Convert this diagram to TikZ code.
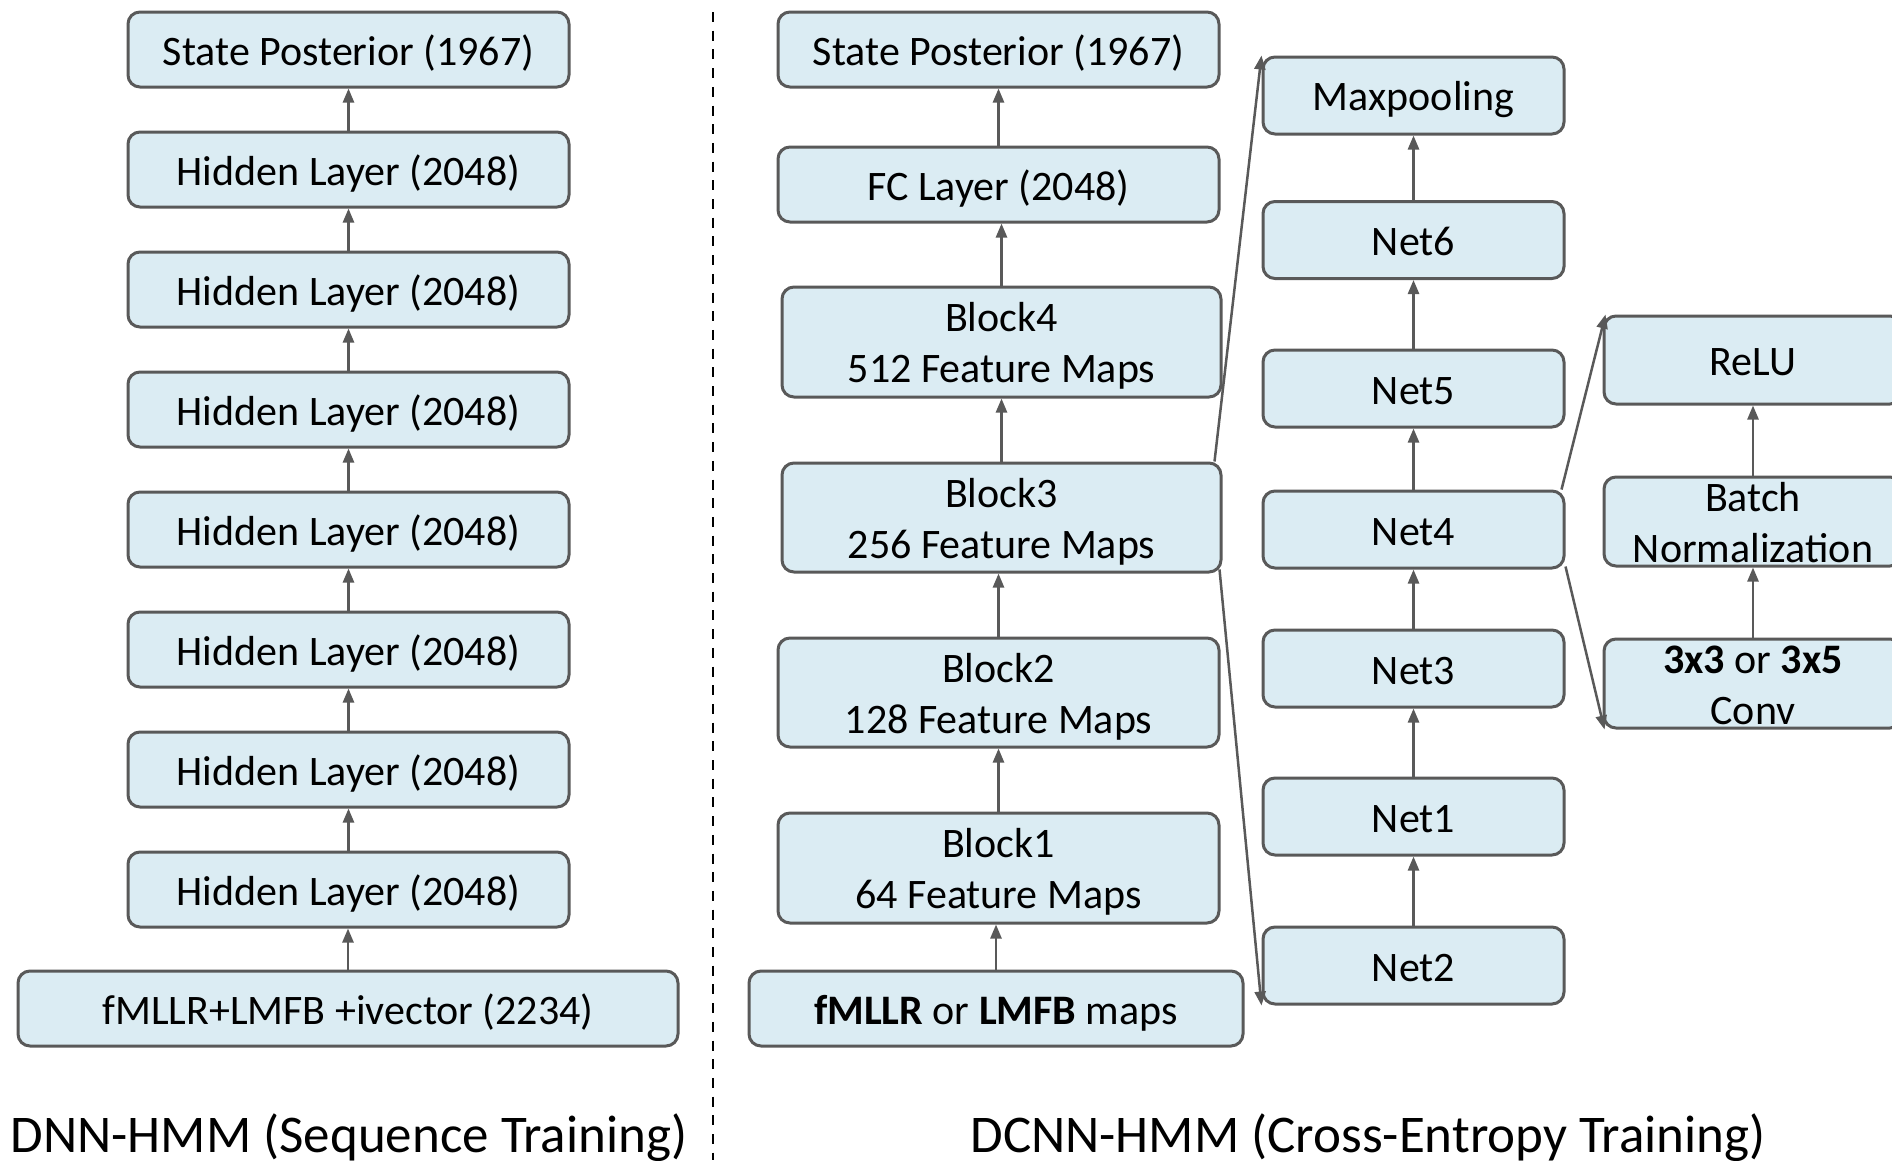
\documentclass[tikz,border=0pt]{standalone}
\usepackage{fontspec}
\setmainfont{Carlito}
\usetikzlibrary{arrows.meta}
\definecolor{boxfill}{RGB}{219,236,243}
\definecolor{edgegray}{RGB}{89,89,89}
\tikzset{
  layer/.style={draw=edgegray, line width=3pt, fill=boxfill, rounded corners=12pt,
    inner sep=0pt, align=center, text=black, font=\fontsize{42}{51}\selectfont},
  % struts that fix where the label sits in its box
  oneline/.style={execute at begin node={\rule[-7pt]{0pt}{45pt}}},
  twoline/.style={execute at begin node={\rule[-9pt]{0pt}{99pt}}},
  twolinetight/.style={execute at begin node={\rule[-4pt]{0pt}{89pt}}},
  flow/.style={draw=edgegray, line width=2.5pt, -{Triangle[length=14pt,width=11pt]}},
  caption/.style={font=\fontsize{53}{64}\selectfont, inner sep=0pt, anchor=base},
  divider/.style={draw=black, line width=2pt, dash pattern=on 10pt off 8.7pt}
}
\begin{document}
\begin{tikzpicture}[x=1pt,y=-1pt]
\useasboundingbox (0,0) rectangle (1892,1160);
\clip (0,0) rectangle (1892,1160);

% ---------- DNN-HMM stack ----------
\tikzset{lcol/.style={layer, oneline, minimum width=441pt, minimum height=75pt}}
\node[lcol] (dsp) at (348.5,49.5)  {State Posterior (1967)};
\node[lcol] (h1)  at (348.5,169.5) {Hidden Layer (2048)};
\node[lcol] (h2)  at (348.5,289.5) {Hidden Layer (2048)};
\node[lcol] (h3)  at (348.5,409.5) {Hidden Layer (2048)};
\node[lcol] (h4)  at (348.5,529.5) {Hidden Layer (2048)};
\node[lcol] (h5)  at (348.5,649.5) {Hidden Layer (2048)};
\node[lcol] (h6)  at (348.5,769.5) {Hidden Layer (2048)};
\node[lcol] (h7)  at (348.5,889.5) {Hidden Layer (2048)};
\node[layer, oneline, minimum width=660pt, minimum height=75pt] (din) at (348,1008.5) {fMLLR+LMFB +ivector (2234)};

\foreach \lo/\hi in {din/h7,h7/h6,h6/h5,h5/h4,h4/h3,h3/h2,h2/h1,h1/dsp}
  \draw[flow] (\lo.north) -- (\lo.north |- \hi.south);

% ---------- separator ----------
\coordinate (divtop) at (713,12);
\coordinate (divbot) at (713,1160);
\draw[divider] (divtop) -- (divbot);

% ---------- DCNN-HMM stack ----------
\node[layer, oneline, minimum width=441pt, minimum height=75pt] (csp) at (998.5,49.5)  {State Posterior (1967)};
\node[layer, oneline, minimum width=441pt, minimum height=75pt] (fc)  at (998.5,184.5) {FC Layer (2048)};
\node[layer, twoline, minimum width=439pt, minimum height=110pt] (b4) at (1001.5,342) {Block4\\512 Feature Maps};
\node[layer, twoline, minimum width=439pt, minimum height=109pt] (b3) at (1001.5,517.5) {Block3\\256 Feature Maps};
\node[layer, twoline, minimum width=441pt, minimum height=109pt] (b2) at (998.5,692.5) {Block2\\128 Feature Maps};
\node[layer, twoline, minimum width=441pt, minimum height=110pt] (b1) at (998.5,868) {Block1\\64 Feature Maps};
\node[layer, oneline, minimum width=494pt, minimum height=75pt] (cin) at (996,1008.5) {\textbf{fMLLR} or \textbf{LMFB} maps};

\foreach \lo/\hi in {cin/b1,b1/b2,b2/b3,b3/b4,b4/fc,fc/csp}
  \draw[flow] (\lo.north) -- (\lo.north |- \hi.south);

% ---------- inside a block ----------
\tikzset{ncol/.style={layer, oneline, minimum width=301pt, minimum height=77pt}}
\node[ncol] (mp) at (1413.5,95.5)  {Maxpooling};
\node[ncol] (n6) at (1413.5,240)   {Net6};
\node[ncol] (n5) at (1413.5,388.5) {Net5};
\node[ncol] (n4) at (1413.5,529.5) {Net4};
\node[ncol] (n3) at (1413.5,668.5) {Net3};
\node[ncol] (n1) at (1413.5,816.5) {Net1};
\node[ncol] (n2) at (1413.5,965.5) {Net2};

\foreach \lo/\hi in {n2/n1,n1/n3,n3/n4,n4/n5,n5/n6,n6/mp}
  \draw[flow] (\lo.north) -- (\lo.north |- \hi.south);

\draw[flow] ([xshift=-8pt]b3.north east) -- (mp.north west);
\draw[flow] ([xshift=-3pt,yshift=4pt]b3.south east) -- (n2.south west);

% ---------- inside a net ----------
\tikzset{rcol/.style={layer, minimum width=298pt}}
\node[rcol, oneline, minimum height=88pt] (relu) at (1753,360) {ReLU};
\node[rcol, twolinetight, minimum height=89pt] (bn)   at (1753,521.5) {Batch\\Normalization};
\node[rcol, twolinetight, minimum height=89pt] (conv) at (1753,683.5) {\textbf{3x3} or \textbf{3x5}\\Conv};

\draw[flow] (conv.north) -- (conv.north |- bn.south);
\draw[flow] (bn.north) -- (bn.north |- relu.south);

\draw[flow] ([xshift=-4pt]n4.north east) -- ([xshift=3pt]relu.north west);
\draw[flow] ([yshift=3pt]n4.south east) -- ([xshift=2pt]conv.south west);

% ---------- captions ----------
\node[caption] (capl) at (349,1152)  {DNN-HMM (Sequence Training)};
\node[caption] (capr) at (1368,1152) {DCNN-HMM (Cross-Entropy Training)};
\end{tikzpicture}
\end{document}
